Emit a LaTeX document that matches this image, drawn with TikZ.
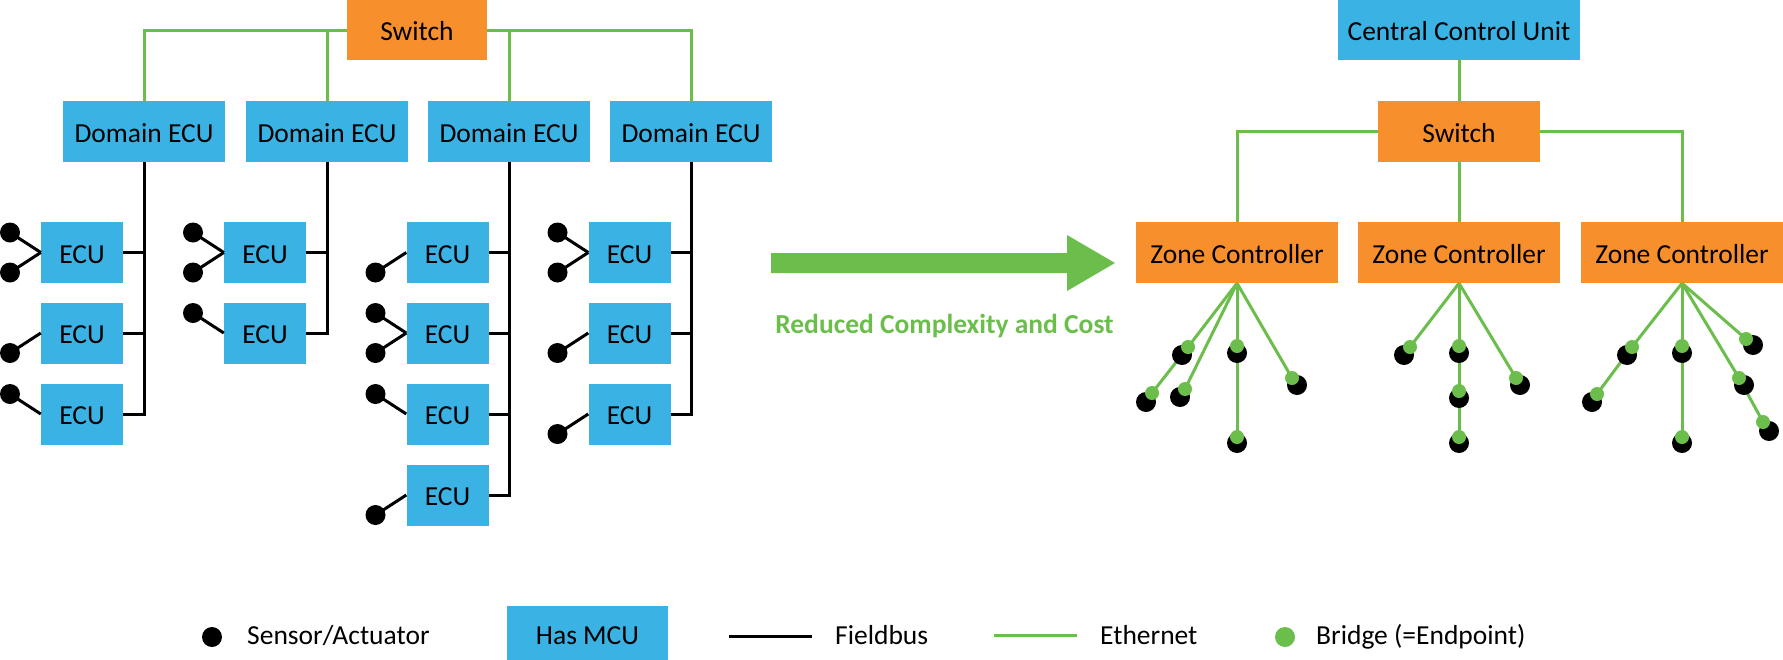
\documentclass[tikz,border=0pt]{standalone}
\usepackage{fontspec}
\setmainfont{Carlito}
\definecolor{cblue}{RGB}{58,179,228}
\definecolor{corange}{RGB}{246,143,44}
\definecolor{cgreen}{RGB}{108,190,76}
\begin{document}
\begin{tikzpicture}[x=1pt,y=-1pt,
  box/.style={inner sep=0pt, text height=21pt, text depth=0pt, font=\fontsize{27.5}{33}\selectfont, text=black},
  bluebox/.style={box, fill=cblue},
  orbox/.style={box, fill=corange},
  ecu/.style={bluebox, minimum width=82pt, minimum height=61pt},
  dom/.style={bluebox, minimum width=162pt, minimum height=61pt},
  zc/.style={orbox, minimum width=202pt, minimum height=61pt},
  eth/.style={draw=cgreen, line width=3pt},
  fb/.style={draw=black, line width=3pt},
  sens/.style={circle, fill=black, inner sep=0pt, minimum size=20pt},
  brg/.style={circle, fill=cgreen, inner sep=0pt, minimum size=14pt},
  lgdot/.style={circle, fill=cgreen, inner sep=0pt, minimum size=20pt},
  lbl/.style={inner sep=0pt, anchor=base west, font=\fontsize{27.5}{33}\selectfont},
]
\useasboundingbox (0,0) rectangle (1783,659);
% ---------------- left: domain architecture
\node[orbox, minimum width=140pt, minimum height=60pt] (swl) at (417,30) {Switch};
\node[dom] (d1) at (144,131.5) {Domain ECU};
\node[dom] (d2) at (327,131.5) {Domain ECU};
\node[dom] (d3) at (509,131.5) {Domain ECU};
\node[dom] (d4) at (691,131.5) {Domain ECU};
\draw[eth] (swl.west) -| (d1.north);
\draw[eth] (d2.north) -- (d2.north |- swl.west);
\draw[eth] (swl.east) -| (d4.north);
\draw[eth] (d3.north) -- (d3.north |- swl.east);

\node[ecu] (e11) at (82,252.5) {ECU};
\node[ecu] (e12) at (82,333) {ECU};
\node[ecu] (e13) at (82,414) {ECU};
\node[ecu] (e21) at (265,252.5) {ECU};
\node[ecu] (e22) at (265,333) {ECU};
\node[ecu] (e31) at (447.5,252.5) {ECU};
\node[ecu] (e32) at (447.5,333) {ECU};
\node[ecu] (e33) at (447.5,414) {ECU};
\node[ecu] (e34) at (447.5,495) {ECU};
\node[ecu] (e41) at (629.5,252.5) {ECU};
\node[ecu] (e42) at (629.5,333) {ECU};
\node[ecu] (e43) at (629.5,414) {ECU};

\draw[fb] (d1.south) |- (e13.east);
\draw[fb] (e11.east) -- (e11.east -| d1.south);
\draw[fb] (e12.east) -- (e12.east -| d1.south);
\draw[fb] (d2.south) |- (e22.east);
\draw[fb] (e21.east) -- (e21.east -| d2.south);
\draw[fb] (d3.south) |- (e34.east);
\draw[fb] (e31.east) -- (e31.east -| d3.south);
\draw[fb] (e32.east) -- (e32.east -| d3.south);
\draw[fb] (e33.east) -- (e33.east -| d3.south);
\draw[fb] (d4.south) |- (e43.east);
\draw[fb] (e41.east) -- (e41.east -| d4.south);
\draw[fb] (e42.east) -- (e42.east -| d4.south);

% sensors
\node[sens] (s11a) at (10,232.5) {};
\node[sens] (s11b) at (10,272.5) {};
\node[sens] (s12) at (10,353) {};
\node[sens] (s13) at (10,394) {};
\node[sens] (s21a) at (193,232.5) {};
\node[sens] (s21b) at (193,272.5) {};
\node[sens] (s22) at (193,313) {};
\node[sens] (s31) at (375.5,272.5) {};
\node[sens] (s32a) at (375.5,313) {};
\node[sens] (s32b) at (375.5,353) {};
\node[sens] (s33) at (375.5,394) {};
\node[sens] (s34) at (375.5,515) {};
\node[sens] (s41a) at (557.5,232.5) {};
\node[sens] (s41b) at (557.5,272.5) {};
\node[sens] (s42) at (557.5,353) {};
\node[sens] (s43) at (557.5,434) {};
\foreach \s/\e in {s11a/e11,s11b/e11,s12/e12,s13/e13,s21a/e21,s21b/e21,s22/e22,s31/e31,s32a/e32,s32b/e32,s33/e33,s34/e34,s41a/e41,s41b/e41,s42/e42,s43/e43}
  \draw[fb] (\s.center) -- (\e.west);

% ---------------- arrow
\fill[cgreen] (771,253) -- (1067,253) -- (1067,235) -- (1115,263) -- (1067,291) -- (1067,273) -- (771,273) -- cycle;
\node[inner sep=0pt, anchor=base, text=cgreen, font=\fontsize{27.5}{33}\selectfont\bfseries] (cap) at (944.5,333) {Reduced Complexity and Cost};

% ---------------- right: zonal architecture
\node[bluebox, minimum width=242pt, minimum height=60pt] (ccu) at (1459,30) {Central Control Unit};
\node[orbox, minimum width=162pt, minimum height=61pt] (swr) at (1459,131.5) {Switch};
\node[zc] (z1) at (1237,252.5) {Zone Controller};
\node[zc] (z2) at (1459,252.5) {Zone Controller};
\node[zc] (z3) at (1682,252.5) {Zone Controller};
\draw[eth] (ccu) -- (swr);
\draw[eth] (swr) -- (z2);
\draw[eth] (swr.west) -| (z1.north);
\draw[eth] (swr.east) -| (z3.north);

% bridge positions (green centres)
\coordinate (g1a1) at (1188,347);  \coordinate (g1a2) at (1152,393);
\coordinate (g1b) at (1185,389);
\coordinate (g1c1) at (1237,346);  \coordinate (g1c2) at (1237,437);
\coordinate (g1d) at (1292,378);
\coordinate (g2a) at (1410,347);
\coordinate (g2c1) at (1459,346);  \coordinate (g2c2) at (1459,391); \coordinate (g2c3) at (1459,437);
\coordinate (g2d) at (1516,378);
\coordinate (g3a1) at (1632,347);  \coordinate (g3a2) at (1597,394);
\coordinate (g3c1) at (1682,346);  \coordinate (g3c2) at (1682,437);
\coordinate (g3d1) at (1739,378);  \coordinate (g3d2) at (1763,422);
\coordinate (g3e) at (1746,339);

\draw[eth] (z1.south) -- (g1a1) -- (g1a2);
\draw[eth] (z1.south) -- (g1b);
\draw[eth] (z1.south) -- (g1c1) -- (g1c2);
\draw[eth] (z1.south) -- (g1d);
\draw[eth] (z2.south) -- (g2a);
\draw[eth] (z2.south) -- (g2c1) -- (g2c2) -- (g2c3);
\draw[eth] (z2.south) -- (g2d);
\draw[eth] (z3.south) -- (g3a1) -- (g3a2);
\draw[eth] (z3.south) -- (g3c1) -- (g3c2);
\draw[eth] (z3.south) -- (g3d1) -- (g3d2);
\draw[eth] (z3.south) -- (g3e);

% black sensor dots behind bridges
\node[sens] (b1a1) at (1182,355) {};  \node[sens] (b1a2) at (1146,402) {};
\node[sens] (b1b) at (1180,397) {};
\node[sens] (b1c1) at (1237,353) {};  \node[sens] (b1c2) at (1237,443) {};
\node[sens] (b1d) at (1297,385) {};
\node[sens] (b2a) at (1404,355) {};
\node[sens] (b2c1) at (1459,353) {};  \node[sens] (b2c2) at (1459,398) {}; \node[sens] (b2c3) at (1459,443) {};
\node[sens] (b2d) at (1520,385) {};
\node[sens] (b3a1) at (1627,355) {};  \node[sens] (b3a2) at (1592,402) {};
\node[sens] (b3c1) at (1682,353) {};  \node[sens] (b3c2) at (1682,443) {};
\node[sens] (b3d1) at (1744,385) {};  \node[sens] (b3d2) at (1769,431) {};
\node[sens] (b3e) at (1753,345) {};

\foreach \g in {g1a1,g1a2,g1b,g1c1,g1c2,g1d,g2a,g2c1,g2c2,g2c3,g2d,g3a1,g3a2,g3c1,g3c2,g3d1,g3d2,g3e}
  \node[brg] (n\g) at (\g) {};

% ---------------- legend
\node[sens] (ls) at (212,637) {};
\node[lbl] (lst) at (247,644) {Sensor/Actuator};
\node[bluebox, minimum width=161pt, minimum height=55pt] (lm) at (587.5,633.5) {Has MCU};
\coordinate (lf1) at (729,636); \coordinate (lf2) at (812,636);
\draw[fb] (lf1) -- (lf2);
\node[lbl] (lft) at (835,644) {Fieldbus};
\coordinate (le1) at (994,635); \coordinate (le2) at (1077,635);
\draw[eth] (le1) -- (le2);
\node[lbl] (let) at (1100,644) {Ethernet};
\node[lgdot] (lb) at (1285,637) {};
\node[lbl] (lbt) at (1316,644) {Bridge (=Endpoint)};
\end{tikzpicture}
\end{document}
